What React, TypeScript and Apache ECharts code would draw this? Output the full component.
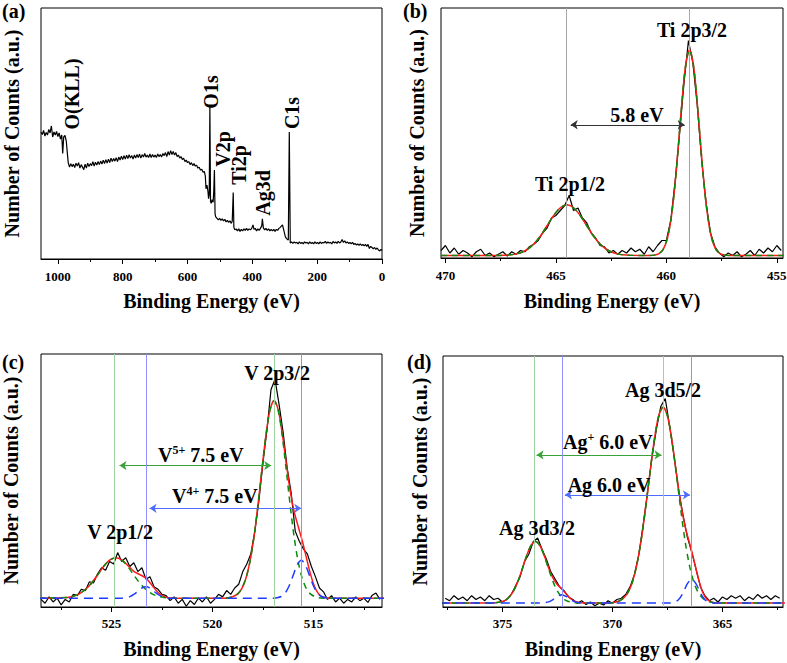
import React, { useEffect, useRef } from "react";
import * as echarts from "echarts";

const FONT = '"Liberation Serif", "Times New Roman", Times, serif';

// ---------------- (a) survey spectrum ----------------
const surveySpectrum: [number, number][] = [
  [1052,50.5],[1048,49.6],[1044,51.2],[1040,49.0],[1036,50.4],[1032,49.4],[1028,51.6],[1024,50.2],[1020,53.0],[1016,48.6],[1012,50.6],[1008,49.4],[1004,50.8],[1000,48.8],[996,50.2],[992,47.8],[988,49.4],[985,42.0],[982,48.6],[978,49.2],[974,47.0],[971,42.5],[968,38.4],[964,36.6],[960,38.0],[956,36.8],[952,37.8],[948,36.4],[944,38.2],[940,37.0],[936,38.4],[932,36.2],[928,37.6],[924,36.6],[920,35.6],[916,37.8],[912,36.2],[908,38.2],[904,36.8],[900,38.0],[896,37.2],[892,38.8],[888,37.0],[884,38.6],[880,37.4],[876,38.8],[872,37.6],[868,39.0],[864,37.8],[860,39.4],[856,38.0],[852,39.6],[848,38.2],[844,39.8],[840,38.4],[836,40.2],[832,38.8],[828,40.0],[824,39.0],[820,40.4],[816,38.8],[812,40.6],[808,39.4],[804,41.0],[800,39.6],[796,41.2],[792,39.8],[788,41.4],[784,40.0],[780,41.6],[776,40.2],[772,41.2],[768,39.8],[764,41.4],[760,40.2],[756,41.6],[752,40.4],[748,41.8],[744,40.2],[740,41.6],[736,40.6],[732,42.0],[728,40.6],[724,41.4],[720,40.4],[716,41.8],[712,40.4],[708,41.6],[704,40.6],[700,41.4],[696,40.4],[692,41.8],[688,40.8],[684,41.6],[680,40.6],[676,42.0],[672,41.2],[668,42.4],[664,40.8],[660,42.8],[656,41.4],[652,43.2],[648,41.6],[644,42.8],[640,41.4],[636,42.4],[632,40.8],[628,41.4],[624,40.2],[620,40.8],[616,39.6],[612,40.2],[608,38.8],[604,39.4],[600,38.4],[596,38.8],[592,37.6],[588,38.4],[584,37.2],[580,38.0],[576,37.0],[572,37.4],[568,36.2],[564,36.6],[560,35.4],[556,35.8],[552,34.6],[548,34.8],[545,33.0],[543,28.0],[540,29.4],[537,27.0],[535,24.0],[533,25.6],[531,60.5],[529,23.0],[527,22.2],[524,23.6],[521,22.6],[519,27.0],[517,35.5],[515,18.0],[513,16.8],[509,16.2],[505,15.6],[501,16.2],[497,15.4],[493,16.0],[489,15.2],[485,15.8],[481,14.8],[477,15.4],[473,14.6],[469,15.2],[465,14.2],[462,15.0],[459,26.5],[457,12.6],[454,11.6],[450,12.0],[446,11.2],[442,12.0],[438,11.0],[434,11.8],[430,11.2],[426,12.0],[422,11.4],[418,12.2],[414,11.4],[410,12.0],[406,11.6],[402,12.2],[398,13.6],[395,11.8],[391,12.2],[387,11.2],[383,12.0],[379,11.4],[375,12.2],[371,13.2],[369,16.0],[366,12.4],[362,11.6],[358,12.2],[354,11.4],[350,12.0],[346,11.2],[342,11.8],[338,11.2],[334,11.8],[330,11.0],[326,11.8],[322,11.4],[318,12.2],[314,12.6],[310,13.2],[307,13.6],[304,12.0],[301,10.4],[298,8.8],[295,8.2],[292,7.8],[289,7.6],[286,50.6],[283,6.4],[279,6.8],[275,6.2],[271,6.8],[267,6.4],[263,6.6],[259,6.0],[255,6.8],[251,6.2],[247,6.6],[243,6.0],[239,6.8],[235,6.4],[231,6.6],[227,6.0],[223,6.8],[219,6.2],[215,6.6],[211,6.0],[207,6.8],[203,6.2],[199,6.6],[195,6.0],[191,6.8],[187,6.2],[183,6.6],[179,6.4],[175,7.0],[171,6.2],[167,6.8],[163,6.4],[159,6.6],[155,6.0],[151,7.0],[147,6.4],[143,6.8],[139,6.2],[135,7.0],[131,6.4],[127,6.8],[123,7.8],[119,6.6],[115,7.2],[111,6.4],[107,6.8],[103,6.2],[99,6.6],[95,6.0],[91,6.6],[87,5.8],[83,6.2],[79,5.6],[75,6.0],[71,5.4],[67,6.0],[63,5.4],[59,5.8],[55,5.2],[51,5.8],[47,5.0],[43,5.8],[39,4.2],[35,5.0],[31,4.6],[27,4.0],[23,4.6],[19,3.8],[15,4.4],[11,3.6],[7,3.2],[3,3.8],[0,3.4],
];
const surveyMajorTicks = [0, 200, 400, 600, 800, 1000];
const surveyMinorTicks = [100, 300, 500, 700, 900];
const surveyPeakLabels = ["O(KLL)", "O1s", "V2p", "Ti2p", "Ag3d", "C1s"];

// ---------------- (b) Ti 2p ----------------
const tiStart = 470.2;
const tiStep = 0.2;
const tiCounts = [
  3,5,2,4,1.5,3,2,0.5,2.5,3.5,
  1,2,0.5,1.5,2.5,0.8,2.5,1.5,3,2.5,
  4.5,5.5,7,10,12,16,17,19,21,25,
  19,20,16,14,10,8,5,4.5,2,3,
  1.5,3,2,4,2.5,3.5,1.5,4.5,2.5,5,
  7,7,15,31,50,70,87,78,61,39,
  22,10,4.5,2,0.5,2,1,2.5,0.5,1.5,
  3,1,3.5,2,4,2.5,5,3,
];
const tiFit: [number, number][] = [
  [470.2,1],[467.5,1.05],[467.2,1.16],[466.9,1.45],[466.6,2.1],[466.3,3.4],[466.0,5.6],[465.7,8.8],[465.4,12.9],[465.1,17.0],[464.8,20.1],[464.5,21.3],[464.2,20.1],[463.9,17.0],[463.6,12.9],[463.3,8.8],[463.0,5.6],[462.7,3.4],[462.4,2.1],[462.1,1.45],[461.8,1.16],[461.5,1.05],[460.8,1],[460.55,1.15],[460.35,1.65],[460.15,3.35],[459.95,8.0],[459.75,18.0],[459.55,34.8],[459.35,56.5],[459.15,75.6],[458.95,83.3],[458.75,75.6],[458.55,56.5],[458.35,34.8],[458.15,18.0],[457.95,8.0],[457.75,3.35],[457.55,1.65],[457.35,1.15],[457.1,1],[454.7,1],
];
const tiMajorTicks = [455, 460, 465, 470];
const tiMinorTicks = [457.5, 462.5, 467.5];
const tiPeakLines = [464.52, 458.95];
const tiSplitArrow = { from: 464.33, to: 459.17, level: 53.3 };

// ---------------- (c) V 2p ----------------
const vStart = 528.5;
const vStep = 0.2;
const vCounts = [
  3,1.5,4,2,3.5,0.8,3,2,5,4.5,
  7,6.5,10,9.5,13,15.5,14.5,18,17,21.5,
  18,19.5,16,17.5,14,15.5,11,12,8,7,
  5,4.5,2.5,4,1.5,3,0.3,2.5,1,3.5,
  2,4,1.5,3,5,4,6.5,5,7.5,9,
  14,17,21,30,42,57,70,86,90,80,
  69,55,45,30,26,23,21,16,12,7.5,
  6,3,4.5,2,3.5,1.5,3,2,4,2.5,
  3.5,1.8,4.5,5.5,3,
];
const vFitV5: [number, number][] = [
  [528.6,3.5],[527.2,3.8],[526.9,4.25],[526.6,5.2],[526.3,6.9],[526.0,9.4],[525.7,12.6],[525.4,16.0],[525.1,18.5],[524.8,19.5],[524.5,18.5],[524.2,16.0],[523.9,12.6],[523.6,9.4],[523.3,6.9],[523.0,5.2],[522.7,4.25],[522.4,3.8],[522.0,3.5],
  [519.4,3.5],[519.2,3.7],[519.0,4.1],[518.75,5.2],[518.55,7.3],[518.35,11.2],[518.15,17.7],[517.95,27.4],[517.75,40.1],[517.55,54.4],[517.35,68.0],[517.15,77.9],[516.95,81.5],[516.75,77.9],[516.55,68.0],[516.35,54.4],[516.15,40.1],[515.95,27.4],[515.75,17.7],[515.55,11.2],[515.35,7.3],[515.15,5.2],[514.95,4.2],[514.75,3.7],[514.5,3.5],[511.5,3.5],
];
const vFitV4: [number, number][] = [
  [528.6,3.5],[524.5,3.5],[524.3,3.7],[524.1,4.1],[523.9,5.0],[523.7,6.2],[523.5,7.5],[523.3,8.0],[523.1,7.5],[522.9,6.2],[522.7,5.0],[522.5,4.1],[522.3,3.7],[522.1,3.5],
  [517.0,3.5],[516.8,3.67],[516.6,4.16],[516.4,5.5],[516.2,8.4],[516.0,12.6],[515.8,16.7],[515.6,18.5],[515.4,16.7],[515.2,12.6],[515.0,8.4],[514.8,5.5],[514.6,4.16],[514.4,3.67],[514.2,3.5],[511.5,3.5],
];
const vFitSum: [number, number][] = [
  [528.6,3.5],[527.2,3.8],[526.9,4.25],[526.6,5.2],[526.3,6.9],[526.0,9.4],[525.7,12.6],[525.4,16.0],[525.1,18.5],[524.8,19.5],[524.5,18.6],[524.2,16.4],[523.9,14.1],[523.6,12.8],[523.3,11.4],[523.0,8.6],[522.7,5.75],[522.4,4.2],[522.1,3.6],[521.7,3.5],
  [519.4,3.5],[519.2,3.7],[519.0,4.1],[518.75,5.2],[518.55,7.3],[518.35,11.2],[518.15,17.7],[517.95,27.4],[517.75,40.1],[517.55,54.4],[517.35,68.0],[517.15,77.9],[516.95,81.5],[516.75,78.1],[516.55,68.9],[516.35,57.0],[516.15,45.9],[515.95,37.6],[515.75,31.7],[515.55,26.1],[515.35,19.6],[515.15,13.2],[514.95,8.2],[514.75,5.3],[514.55,4.0],[514.3,3.6],[514.0,3.5],[511.5,3.5],
];
const vMajorTicks = [515, 520, 525];
const vMinorTicks = [512.5, 517.5, 522.5, 527.5];
const vLinesV5 = [524.86, 516.96];
const vLinesV4 = [523.29, 515.6];
const vArrowV5 = { from: 524.61, to: 517.09, level: 55.9 };
const vArrowV4 = { from: 523.12, to: 515.6, level: 39 };

// ---------------- (d) Ag 3d ----------------
const agStart = 377.6;
const agStep = 0.2;
const agCounts = [
  3.5,2.5,4.5,3,4,2.5,4.5,3,4,2.5,
  4.5,3,3.5,2,3,5,8.5,12,18,21,
  26,27.5,23,19,14,11,8,6.5,4,3,
  1.5,2.5,1,2,0.5,1.5,0.8,2.5,1.5,3,
  3.5,5,8,13,21,33,46,60,71,80,
  83,72,60,47,37,28,22,15,8,4.5,
  2.5,3.5,2,4,3,4.5,3.5,4.5,2.5,4,
  3,5,3.5,4.5,3,4.5,3.5,
];
const agFitAgPlus: [number, number][] = [
  [377.8,1.6],[375.5,1.6],[375.3,1.7],[375.1,1.96],[374.9,2.56],[374.7,3.9],[374.5,6.3],[374.3,10.1],[374.1,15.1],[373.9,20.4],[373.7,24.5],[373.5,26.1],[373.3,24.5],[373.1,20.4],[372.9,15.1],[372.7,10.1],[372.5,6.3],[372.3,3.9],[372.1,2.56],[371.9,1.96],[371.7,1.7],[371.5,1.6],
  [370.1,1.6],[369.9,1.9],[369.7,2.4],[369.5,3.5],[369.3,5.7],[369.1,9.8],[368.9,16.5],[368.7,26.3],[368.5,39.0],[368.3,53.2],[368.1,66.5],[367.9,76.1],[367.7,79.6],[367.5,76.1],[367.3,66.5],[367.1,53.2],[366.9,39.0],[366.7,26.3],[366.5,16.5],[366.3,9.8],[366.1,5.7],[365.9,3.5],[365.7,2.4],[365.5,1.9],[365.3,1.6],[362.1,1.6],
];
const agFitAg0: [number, number][] = [
  [377.8,1.6],[373.3,1.6],[373.1,1.7],[372.9,2.05],[372.7,2.96],[372.5,4.2],[372.3,4.9],[372.1,4.2],[371.9,2.96],[371.7,2.05],[371.5,1.7],[371.3,1.6],
  [367.4,1.6],[367.2,1.87],[367.0,2.9],[366.8,5.5],[366.6,9.2],[366.4,11.1],[366.2,9.2],[366.0,5.5],[365.8,2.9],[365.6,1.87],[365.4,1.6],[362.1,1.6],
];
const agFitSum: [number, number][] = [
  [377.8,1.6],[375.5,1.6],[375.3,1.7],[375.1,1.96],[374.9,2.56],[374.7,3.9],[374.5,6.3],[374.3,10.1],[374.1,15.1],[373.9,20.4],[373.7,24.5],[373.5,26.1],[373.3,24.5],[373.1,20.5],[372.9,15.55],[372.7,11.5],[372.5,8.9],[372.3,7.2],[372.1,5.2],[371.9,3.3],[371.7,2.2],[371.5,1.75],[371.3,1.6],
  [370.1,1.6],[369.9,1.9],[369.7,2.4],[369.5,3.5],[369.3,5.7],[369.1,9.8],[368.9,16.5],[368.7,26.3],[368.5,39.0],[368.3,53.2],[368.1,66.5],[367.9,76.1],[367.7,79.6],[367.5,76.1],[367.3,66.5],[367.1,53.8],[366.9,41.4],[366.7,32.1],[366.5,25.5],[366.3,18.8],[366.1,11.5],[365.9,5.9],[365.7,3.0],[365.5,2.0],[365.3,1.6],[362.1,1.6],
];
const agMajorTicks = [365, 370, 375];
const agMinorTicks = [362.5, 367.5, 372.5, 377.5];
const agLinesAgPlus = [373.55, 367.69];
const agLinesAg0 = [372.27, 366.4];
const agArrowAgPlus = { from: 373.45, to: 367.77, level: 60.6 };
const agArrowAg0 = { from: 372.16, to: 366.48, level: 44.7 };

const X_TITLE = "Binding Energy (eV)";
const Y_TITLE = "Number of Counts (a.u.)";

// ---------------- helpers ----------------
const onGrid = (start: number, step: number, ys: number[]) =>
  ys.map((y, i) => [Number((start - i * step).toFixed(3)), y]);

const RED = "#ff1a1a";
const GREEN = "#0a8a0a";
const BLUE = "#1f3dff";
const VLINE_GREEN = "#9ed29e";
const VLINE_BLUE = "#8f8fff";
const ARROW_GREEN = "#39a339";
const ARROW_BLUE = "#4f6cff";

function majorAxis(gridIndex: number, min: number, max: number, ticks: number[], nameGap: number, labelMargin: number) {
  return {
    type: "value", gridIndex, min, max, inverse: true, position: "bottom",
    name: X_TITLE, nameLocation: "middle", nameGap,
    nameTextStyle: { fontFamily: FONT, fontWeight: "bold", fontSize: 20, color: "#000" },
    axisLine: { show: true, onZero: false, lineStyle: { color: "#000", width: 1 } },
    axisTick: { show: true, inside: false, length: 5, customValues: ticks, lineStyle: { color: "#000", width: 1 } },
    axisLabel: {
      show: true, customValues: ticks, margin: labelMargin, formatter: (v: number) => String(v),
      fontFamily: FONT, fontWeight: "bold", fontSize: 13, color: "#000",
    },
    splitLine: { show: false },
  };
}
function minorAxis(gridIndex: number, min: number, max: number, ticks: number[]) {
  return {
    type: "value", gridIndex, min, max, inverse: true, position: "bottom",
    axisLine: { show: false, onZero: false },
    axisTick: { show: true, inside: false, length: 3, customValues: ticks, lineStyle: { color: "#000", width: 1 } },
    axisLabel: { show: false },
    splitLine: { show: false },
  };
}
function yAxisFor(gridIndex: number, nameGap: number) {
  return {
    type: "value", gridIndex, min: 0, max: 100,
    name: Y_TITLE, nameLocation: "middle", nameGap, nameRotate: 90,
    nameTextStyle: { fontFamily: FONT, fontWeight: "bold", fontSize: 20, color: "#000" },
    axisLine: { show: false }, axisTick: { show: false }, axisLabel: { show: false }, splitLine: { show: false },
  };
}
function lineSeries(xAxisIndex: number, yAxisIndex: number, data: number[][], color: string, width: number, type: any, z: number, smooth: any, extra: any = {}) {
  return {
    type: "line", xAxisIndex, yAxisIndex, data, showSymbol: false, symbol: "none", smooth,
    lineStyle: { color, width, type }, itemStyle: { color }, z, silent: true, clip: true, ...extra,
  };
}
function vLines(items: { v: number; color: string }[]) {
  return {
    silent: true, symbol: ["none", "none"], label: { show: false }, animation: false,
    data: items.map((it) => ({ xAxis: it.v, lineStyle: { color: it.color, width: 1, type: "solid" } })),
  };
}
function arrows(items: { from: number; to: number; level: number; color: string }[]) {
  return {
    silent: true, symbol: ["arrow", "arrow"], symbolSize: 7, label: { show: false }, animation: false,
    data: items.map((it) => [
      { coord: [it.from, it.level], lineStyle: { color: it.color, width: 1, type: "solid" }, itemStyle: { color: it.color } },
      { coord: [it.to, it.level], lineStyle: { color: it.color, width: 1, type: "solid" }, itemStyle: { color: it.color } },
    ]),
  };
}
const boldFont = (size: number) => `bold ${size}px ${FONT}`;
function label(text: string, x: number, y: number, align = "center", rotation = 0, size = 20) {
  return { type: "text", x, y, rotation, z: 100, silent: true, style: { text, font: boldFont(size), fill: "#000", align, verticalAlign: "middle" } };
}
function supLabel(base: string, sup: string, rest: string, x: number, y: number) {
  return {
    type: "text", x, y, z: 100, silent: true,
    style: {
      text: `{m|${base}}{s|${sup}}{m|${rest}}`, align: "left", verticalAlign: "middle", fill: "#000",
      rich: {
        m: { font: boldFont(20), fill: "#000", lineHeight: 22 },
        s: { font: boldFont(12), fill: "#000", lineHeight: 12, verticalAlign: "top" },
      },
    },
  };
}

export default function App() {
  const ref = useRef<HTMLDivElement>(null);
  useEffect(() => {
    if (!ref.current) return;
    const chart = echarts.init(ref.current, null, { renderer: "svg" });
    const grids = [
      { left: 41, top: 8, width: 341, height: 251 },
      { left: 441, top: 8, width: 342, height: 250 },
      { left: 41, top: 354, width: 341, height: 253 },
      { left: 443, top: 356, width: 340, height: 251 },
    ].map((g) => ({ ...g, show: true, borderColor: "#000", borderWidth: 1, containLabel: false, outerBoundsMode: "none" }));

    const xAxis = [
      majorAxis(0, 0, 1052, surveyMajorTicks, 32, 11), minorAxis(0, 0, 1052, surveyMinorTicks),
      majorAxis(1, 454.72, 470.2, tiMajorTicks, 33, 11), minorAxis(1, 454.72, 470.2, tiMinorTicks),
      majorAxis(2, 511.6, 528.5, vMajorTicks, 32, 10), minorAxis(2, 511.6, 528.5, vMinorTicks),
      majorAxis(3, 362.25, 377.7, agMajorTicks, 32, 10), minorAxis(3, 362.25, 377.7, agMinorTicks),
    ];
    const yAxis = [yAxisFor(0, 19), yAxisFor(1, 14), yAxisFor(2, 20), yAxisFor(3, 13)];

    const series = [
      // (a)
      lineSeries(0, 0, surveySpectrum, "#000", 1.2, "solid", 2, false),
      // (b)
      lineSeries(2, 1, onGrid(tiStart, tiStep, tiCounts), "#000", 1.2, "solid", 2, false, {
        markLine: arrows([{ ...tiSplitArrow, color: "#333" }]),
      }),
      lineSeries(2, 1, tiFit, RED, 1.5, "solid", 3, 0.3, {
        markLine: vLines(tiPeakLines.map((v) => ({ v, color: "#a8a8a8" }))),
      }),
      lineSeries(2, 1, tiFit, GREEN, 1.5, [6, 5], 4, 0.3),
      // (c)
      lineSeries(4, 2, onGrid(vStart, vStep, vCounts), "#000", 1.2, "solid", 2, false, {
        markLine: arrows([
          { ...vArrowV5, color: ARROW_GREEN },
          { ...vArrowV4, color: ARROW_BLUE },
        ]),
      }),
      lineSeries(4, 2, vFitSum, RED, 1.5, "solid", 3, 0.3, {
        markLine: vLines([
          ...vLinesV5.map((v) => ({ v, color: VLINE_GREEN })),
          ...vLinesV4.map((v) => ({ v, color: VLINE_BLUE })),
        ]),
      }),
      lineSeries(4, 2, vFitV5, GREEN, 1.5, [6, 5], 4, 0.3),
      lineSeries(4, 2, vFitV4, BLUE, 1.5, [9, 6], 4, 0.3),
      // (d)
      lineSeries(6, 3, onGrid(agStart, agStep, agCounts), "#000", 1.2, "solid", 2, false, {
        markLine: arrows([
          { ...agArrowAgPlus, color: ARROW_GREEN },
          { ...agArrowAg0, color: ARROW_BLUE },
        ]),
      }),
      lineSeries(6, 3, agFitSum, RED, 1.5, "solid", 3, 0.3, {
        markLine: vLines([
          ...agLinesAgPlus.map((v) => ({ v, color: VLINE_GREEN })),
          ...agLinesAg0.map((v) => ({ v, color: VLINE_BLUE })),
        ]),
      }),
      lineSeries(6, 3, agFitAgPlus, GREEN, 1.5, [6, 5], 4, 0.3),
      lineSeries(6, 3, agFitAg0, BLUE, 1.5, [9, 6], 4, 0.3),
    ];

    const R = Math.PI / 2;
    const graphic = [
      label("(a)", 2, 11, "left"),
      label("(b)", 403, 11, "left"),
      label("(c)", 2, 362, "left"),
      label("(d)", 407, 362, "left"),
      // survey peak labels (rotated)
      label(surveyPeakLabels[0], 72, 94, "center", R),
      label(surveyPeakLabels[1], 211, 92, "center", R),
      label(surveyPeakLabels[2], 223, 149, "center", R),
      label(surveyPeakLabels[3], 239, 165, "center", R),
      label(surveyPeakLabels[4], 263, 193, "center", R),
      label(surveyPeakLabels[5], 292, 113, "center", R),
      // (b)
      label("Ti 2p3/2", 692, 30),
      label("Ti 2p1/2", 570, 184),
      label("5.8 eV", 637, 115),
      // (c)
      label("V 2p3/2", 277, 373),
      supLabel("V", "5+", " 7.5 eV", 158, 455),
      supLabel("V", "4+", " 7.5 eV", 172, 496),
      label("V 2p1/2", 120, 532),
      // (d)
      label("Ag 3d5/2", 663, 390),
      supLabel("Ag", "+", " 6.0 eV", 563, 442),
      label("Ag 6.0 eV", 609, 485),
      label("Ag 3d3/2", 537, 528),
    ];

    chart.setOption({
      animation: false,
      backgroundColor: "#fff",
      grid: grids,
      xAxis,
      yAxis,
      series,
      graphic,
    });
    return () => chart.dispose();
  }, []);
  return (
    <div
      ref={ref}
      style={{ position: "absolute", left: 0, top: 0, width: 787, height: 663, background: "#fff" }}
    />
  );
}
